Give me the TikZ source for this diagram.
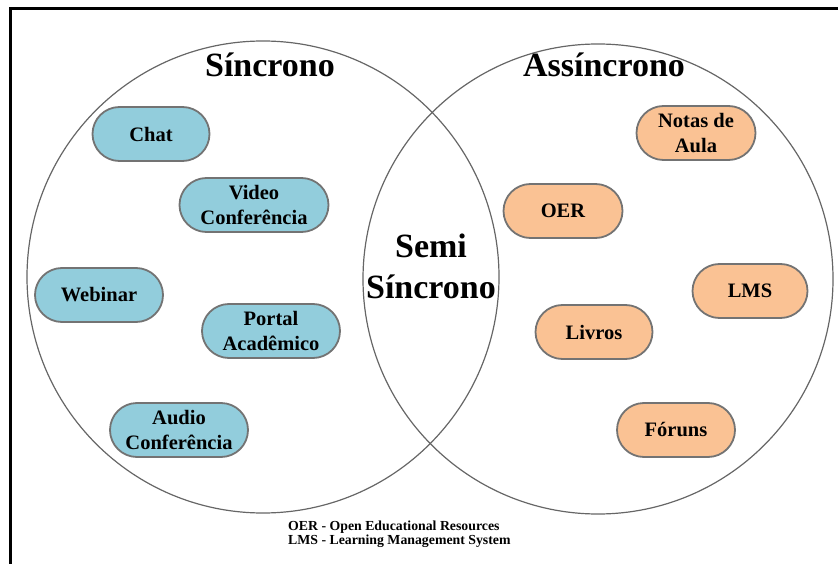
\documentclass[tikz,border=0pt]{standalone}
\usepackage{fontspec}
\setmainfont{Liberation Serif}
\begin{document}
\begin{tikzpicture}[x=1pt,y=-1pt,
  pill/.style={draw=black!55, line width=1.8pt, rounded corners=27pt,
    minimum height=54pt, inner sep=2pt, align=center,
    font=\fontsize{20.5}{25}\selectfont\bfseries},
  syncbox/.style={pill, fill=syncfill},
  asyncbox/.style={pill, fill=asyncfill},
  setline/.style={draw=black!60, line width=1.2pt},
  title/.style={font=\fontsize{34}{41}\selectfont\bfseries, inner sep=0pt, align=center}]
\definecolor{syncfill}{RGB}{146,205,220}
\definecolor{asyncfill}{RGB}{250,194,148}
\useasboundingbox (0,0) rectangle (838,564);
% frame
\draw[line width=3pt] (10,570) -- (10,8.5) -- (845,8.5);
% the two sets
\draw[setline] (263,277) circle (236);
\draw[setline] (598,279) circle (235);
% set titles
\node[title, anchor=base] (sinc) at (270,77) {Síncrono};
\node[title, anchor=base] (assinc) at (604,77) {Assíncrono};
\node[title] (semi) at (431,266) {Semi\\Síncrono};
% synchronous tools
\node[syncbox, minimum width=117pt] (chat) at (151,134) {Chat};
\node[syncbox, minimum width=149pt] (video) at (254,205) {Video\\Conferência};
\node[syncbox, minimum width=128pt] (webinar) at (99,295) {Webinar};
\node[syncbox, minimum width=138pt] (portal) at (271,331) {Portal\\Acadêmico};
\node[syncbox, minimum width=138pt] (audio) at (179,430) {Audio\\Conferência};
% asynchronous tools
\node[asyncbox, minimum width=119pt] (notas) at (696,133) {Notas de\\Aula};
\node[asyncbox, minimum width=119pt] (oer) at (563,211) {OER};
\node[asyncbox, minimum width=115pt] (lms) at (750,291) {LMS};
\node[asyncbox, minimum width=117pt] (livros) at (594,332) {Livros};
\node[asyncbox, minimum width=118pt] (foruns) at (676,430) {Fóruns};
% legend
\node[anchor=north west, align=left, inner sep=0pt,
  font=\fontsize{13.8}{14}\selectfont\bfseries] (legend) at (288,521)
  {OER - Open Educational Resources\\LMS - Learning Management System};
\end{tikzpicture}
\end{document}
